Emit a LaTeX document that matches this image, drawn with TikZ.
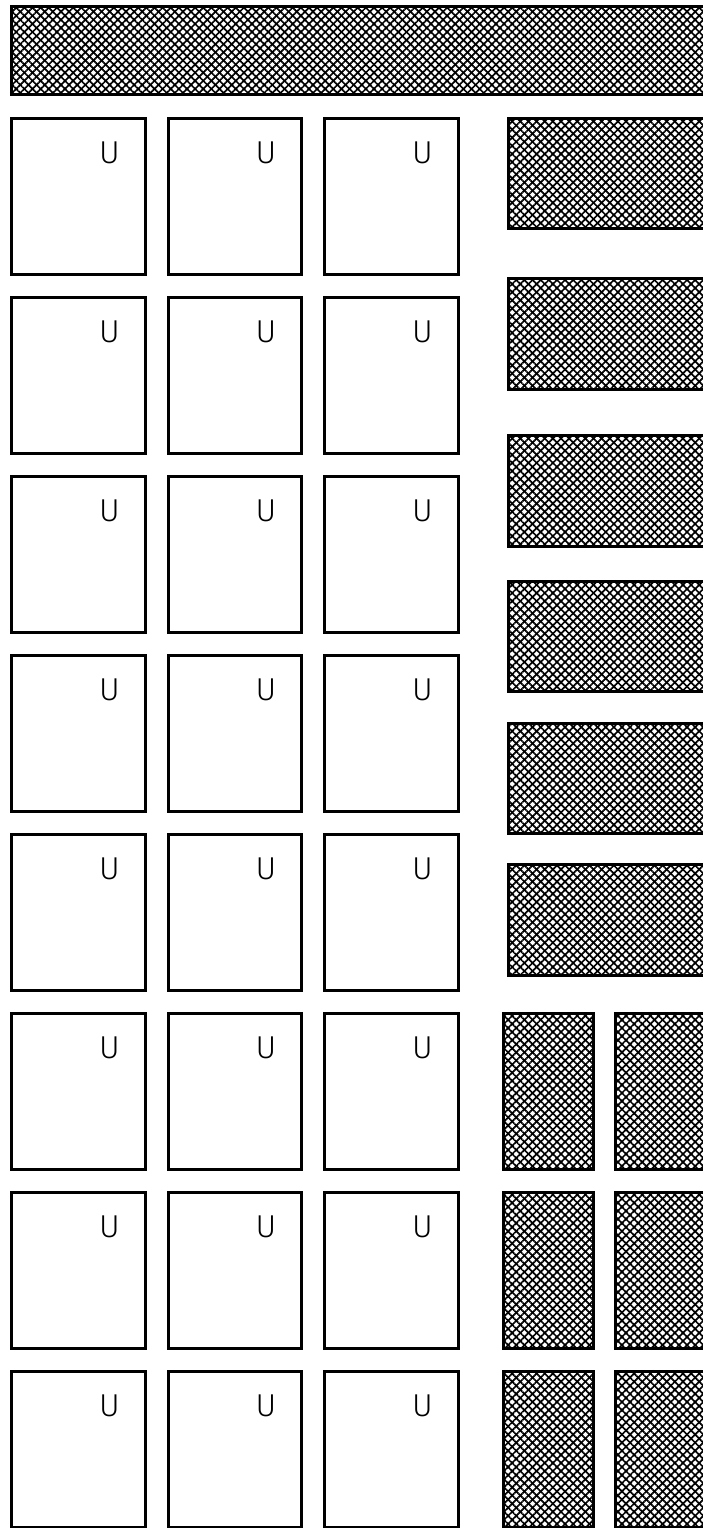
\documentclass[tikz,border=0pt]{standalone}
\usepackage{fontspec}
\setmainfont{Fira Sans}[UprightFont={* Light}]
\usepackage{tikz}
\usetikzlibrary{patterns.meta}

\begin{document}
\begin{tikzpicture}[
  x=0.02cm, y=-0.02cm,
  frame/.style={draw, line width=0.06cm, inner sep=0pt, fill=white},
  ubox/.style={frame, minimum width=2.68cm, minimum height=3.12cm},
  ulabel/.style={anchor=base, inner sep=0pt, font=\fontsize{18}{20}\selectfont},
  hatch/.style={frame,
    pattern={Lines[angle=45, distance=0.115cm, line width=0.034cm]},
    postaction={pattern={Lines[angle=-45, distance=0.115cm, line width=0.034cm]}}},
  wide/.style={hatch, minimum width=4.23cm, minimum height=2.21cm},
  slim/.style={hatch, minimum width=1.8cm, minimum height=3.12cm},
  slimr/.style={hatch, minimum width=2.09cm, minimum height=3.12cm}]
  \useasboundingbox (0,0) rectangle (703,1528);
  \clip (0,0) rectangle (703,1528);
  % banner across the top
  \node[hatch, minimum width=14.17cm, minimum height=1.76cm] (banner) at (365.75,50.5) {};
  % grid of U boxes
  \foreach \r in {1,...,8}{
    \foreach \c/\x in {1/78.5, 2/235, 3/391.5}{
      \pgfmathsetmacro{\y}{196.5+179*(\r-1)}
      \node[ubox] (u\r\c) at (\x,\y) {};
      \node[ulabel] (lab\r\c) at (\x+31,\y-33.5) {U};
    }
  }
  % wide hatched blocks on the right
  \node[wide] (w1) at (614.25,173.5) {};
  \node[wide] (w2) at (614.25,334) {};
  \node[wide] (w3) at (614.25,491) {};
  \node[wide] (w4) at (614.25,636.5) {};
  \node[wide] (w5) at (614.25,778.5) {};
  \node[wide] (w6) at (614.25,920) {};
  % narrow hatched pairs
  \node[slim]  (s6a) at (548.5,1091.5) {};
  \node[slimr] (s6b) at (667.75,1091.5) {};
  \node[slim]  (s7a) at (548.5,1270.5) {};
  \node[slimr] (s7b) at (667.75,1270.5) {};
  \node[slim]  (s8a) at (548.5,1449.5) {};
  \node[slimr] (s8b) at (667.75,1449.5) {};
\end{tikzpicture}
\end{document}
